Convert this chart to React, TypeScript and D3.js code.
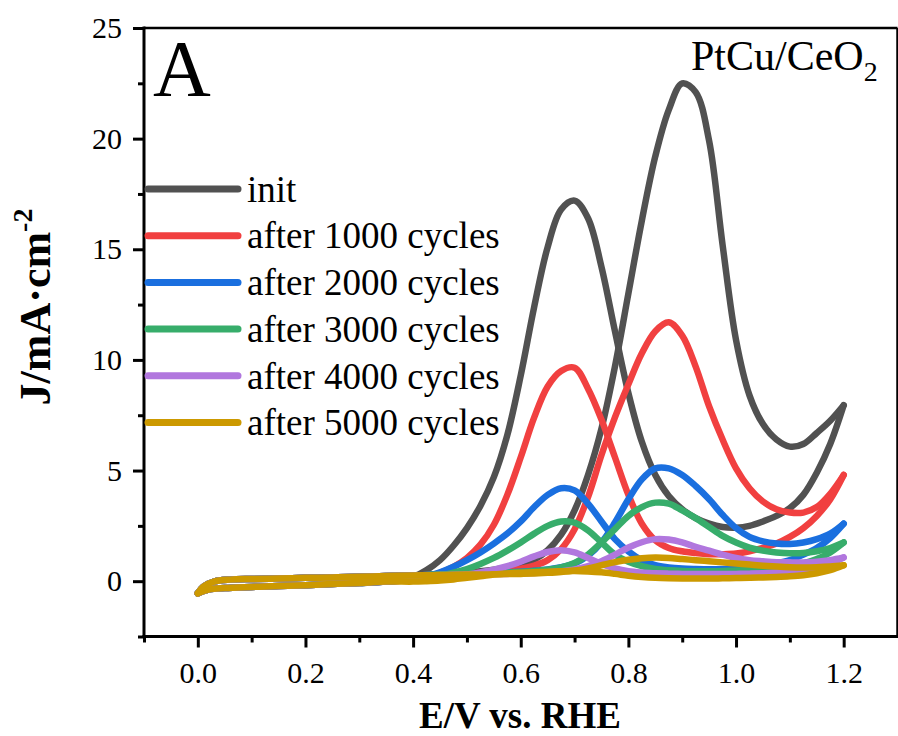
import * as d3 from "d3";
import { useEffect, useRef } from "react";

type Pt = [number, number];

// low-potential region, shared by all scans (E in V, J in mA/cm2)
const baseFwd: Pt[] = [[0.0, -0.55], [0.01, -0.25], [0.03, -0.02], [0.06, 0.07], [0.1, 0.1], [0.15, 0.12], [0.2, 0.15], [0.25, 0.17], [0.3, 0.2], [0.35, 0.23]];
const baseBwd: Pt[] = [[0.0, -0.55], [0.02, -0.38], [0.05, -0.31], [0.1, -0.26], [0.15, -0.22], [0.2, -0.18], [0.25, -0.13], [0.3, -0.08], [0.35, -0.02]];

const eGrid = [0.4, 0.425, 0.45, 0.475, 0.5, 0.525, 0.55, 0.575, 0.6, 0.625, 0.65, 0.675, 0.7, 0.725, 0.75, 0.775, 0.8, 0.825, 0.85, 0.875, 0.9, 0.925, 0.95, 0.975, 1.0, 1.025, 1.05, 1.075, 1.1, 1.125, 1.15, 1.175, 1.2];

const initFwd = [0.26, 0.29, 0.32, 0.36, 0.4, 0.45, 0.52, 0.62, 0.76, 0.98, 1.4, 2.1, 3.2, 4.8, 6.9, 9.7, 13.0, 16.3, 19.2, 21.3, 22.5, 22.1, 19.9, 15.2, 10.9, 8.4, 7.1, 6.4, 6.08, 6.2, 6.7, 7.25, 7.95];
const initBwd = [0.2, 0.5, 0.95, 1.6, 2.4, 3.4, 4.7, 6.6, 9.3, 12.4, 15.1, 16.8, 17.2, 16.4, 14.2, 11.3, 8.5, 6.3, 4.8, 3.85, 3.25, 2.85, 2.6, 2.45, 2.42, 2.5, 2.7, 2.95, 3.3, 3.9, 4.9, 6.2, 7.95];

const c1000Fwd = [0.26, 0.28, 0.3, 0.32, 0.35, 0.38, 0.42, 0.48, 0.56, 0.7, 0.95, 1.45, 2.35, 3.8, 5.7, 7.4, 8.9, 10.3, 11.3, 11.7, 11.1, 9.7, 7.9, 6.4, 5.1, 4.2, 3.6, 3.25, 3.1, 3.1, 3.35, 3.95, 4.8];
const c1000Bwd = [0.08, 0.2, 0.38, 0.65, 1.05, 1.65, 2.55, 3.9, 5.6, 7.4, 8.8, 9.5, 9.65, 8.7, 7.3, 5.6, 3.9, 2.6, 1.85, 1.5, 1.35, 1.27, 1.22, 1.22, 1.25, 1.35, 1.5, 1.7, 2.0, 2.4, 2.95, 3.7, 4.8];

const c2000Fwd = [0.26, 0.28, 0.3, 0.32, 0.34, 0.36, 0.38, 0.4, 0.43, 0.47, 0.53, 0.63, 0.8, 1.15, 1.75, 2.65, 3.7, 4.6, 5.1, 5.1, 4.8, 4.3, 3.7, 3.0, 2.4, 2.0, 1.8, 1.7, 1.68, 1.75, 1.9, 2.15, 2.6];
const c2000Bwd = [0.1, 0.22, 0.4, 0.65, 0.95, 1.3, 1.7, 2.15, 2.7, 3.35, 3.9, 4.2, 4.1, 3.5, 2.7, 1.9, 1.35, 0.95, 0.72, 0.62, 0.57, 0.55, 0.54, 0.55, 0.58, 0.63, 0.7, 0.8, 0.95, 1.2, 1.5, 1.95, 2.6];

const c3000Fwd = [0.26, 0.28, 0.3, 0.31, 0.33, 0.35, 0.37, 0.39, 0.42, 0.46, 0.52, 0.62, 0.82, 1.2, 1.75, 2.35, 2.95, 3.35, 3.55, 3.5, 3.2, 2.85, 2.45, 2.05, 1.75, 1.52, 1.38, 1.3, 1.26, 1.27, 1.35, 1.5, 1.75];
const c3000Bwd = [0.08, 0.15, 0.25, 0.38, 0.55, 0.78, 1.05, 1.38, 1.75, 2.15, 2.5, 2.7, 2.65, 2.3, 1.75, 1.2, 0.88, 0.68, 0.55, 0.49, 0.46, 0.45, 0.45, 0.46, 0.48, 0.51, 0.55, 0.6, 0.68, 0.8, 1.0, 1.3, 1.75];

const c4000Fwd = [0.26, 0.27, 0.28, 0.29, 0.3, 0.31, 0.32, 0.33, 0.35, 0.37, 0.4, 0.45, 0.53, 0.68, 0.9, 1.2, 1.52, 1.76, 1.9, 1.88, 1.75, 1.55, 1.38, 1.2, 1.05, 0.95, 0.9, 0.86, 0.85, 0.85, 0.88, 0.95, 1.07];
const c4000Bwd = [0.05, 0.1, 0.15, 0.22, 0.3, 0.4, 0.52, 0.68, 0.88, 1.12, 1.32, 1.4, 1.3, 1.05, 0.78, 0.58, 0.45, 0.39, 0.36, 0.34, 0.33, 0.32, 0.32, 0.32, 0.33, 0.34, 0.36, 0.39, 0.43, 0.5, 0.62, 0.8, 1.07];

const c5000Fwd = [0.26, 0.27, 0.28, 0.29, 0.3, 0.3, 0.31, 0.32, 0.33, 0.35, 0.38, 0.42, 0.48, 0.58, 0.72, 0.86, 0.97, 1.04, 1.07, 1.05, 1.0, 0.95, 0.9, 0.85, 0.8, 0.75, 0.7, 0.66, 0.63, 0.62, 0.63, 0.66, 0.72];
const c5000Bwd = [-0.02, 0.0, 0.03, 0.08, 0.15, 0.22, 0.3, 0.35, 0.38, 0.4, 0.43, 0.45, 0.46, 0.44, 0.4, 0.33, 0.25, 0.19, 0.15, 0.13, 0.12, 0.12, 0.12, 0.13, 0.14, 0.15, 0.17, 0.19, 0.22, 0.27, 0.36, 0.5, 0.72];

const labels = ["init", "after 1000 cycles", "after 2000 cycles", "after 3000 cycles", "after 4000 cycles", "after 5000 cycles"];
const colors = ["#515151", "#F14040", "#1A6FDF", "#37AD6B", "#B177DE", "#CC9900"];
const scans = [[initFwd, initBwd], [c1000Fwd, c1000Bwd], [c2000Fwd, c2000Bwd], [c3000Fwd, c3000Bwd], [c4000Fwd, c4000Bwd], [c5000Fwd, c5000Bwd]];

const xMajor = [0, 0.2, 0.4, 0.6, 0.8, 1.0, 1.2];
const xMinor = [-0.1, 0.1, 0.3, 0.5, 0.7, 0.9, 1.1];
const yMajor = [0, 5, 10, 15, 20, 25];
const yMinor = [-2.5, 2.5, 7.5, 12.5, 17.5, 22.5];

const FONT = "'Liberation Serif', 'Times New Roman', serif";

export default function App() {
  const svgRef = useRef<SVGSVGElement>(null);

  useEffect(() => {
    if (!svgRef.current) return;
    const width = 898;
    const height = 736;
    const left = 144, right = 897.5, top = 28, bottom = 636.5;

    const svg = d3.select(svgRef.current);
    svg.selectAll("*").remove();
    svg.attr("width", width).attr("height", height);

    const x = d3.scaleLinear().domain([-0.1, 1.3]).range([left, right]);
    const y = d3.scaleLinear().domain([-2.5, 25]).range([bottom, top]);

    const line = d3
      .line<Pt>()
      .x((d) => x(d[0]))
      .y((d) => y(d[1]))
      .curve(d3.curveCatmullRom.alpha(0.5));

    const curves = svg.append("g");
    scans.forEach(([fwd, bwd], i) => {
      const fwdPts: Pt[] = [...baseFwd, ...eGrid.map((e, k) => [e, fwd[k]] as Pt)];
      const bwdPts: Pt[] = [...baseBwd, ...eGrid.map((e, k) => [e, bwd[k]] as Pt)];
      for (const pts of [fwdPts, bwdPts]) {
        curves
          .append("path")
          .datum(pts)
          .attr("d", line)
          .attr("fill", "none")
          .attr("stroke", colors[i])
          .attr("stroke-width", 6.5)
          .attr("stroke-linecap", "round")
          .attr("stroke-linejoin", "round");
      }
    });

    // axes
    const styleAxis = (g: d3.Selection<SVGGElement, unknown, null, undefined>) => {
      g.select(".domain").remove();
      g.selectAll(".tick line").attr("stroke", "#000").attr("stroke-width", 3);
      g.selectAll("text").attr("fill", "#000").style("font-family", FONT).style("font-size", "30px");
    };

    svg
      .append("g")
      .attr("transform", `translate(0,${bottom})`)
      .call(d3.axisBottom(x).tickValues(xMajor).tickSize(11).tickPadding(14).tickFormat(d3.format(".1f")))
      .call(styleAxis);
    svg
      .append("g")
      .attr("transform", `translate(0,${bottom})`)
      .call(d3.axisBottom(x).tickValues(xMinor).tickSize(6).tickFormat(() => ""))
      .call(styleAxis);
    svg
      .append("g")
      .attr("transform", `translate(${left},0)`)
      .call(d3.axisLeft(y).tickValues(yMajor).tickSize(11).tickPadding(11).tickFormat(d3.format("d")))
      .call(styleAxis);
    svg
      .append("g")
      .attr("transform", `translate(${left},0)`)
      .call(d3.axisLeft(y).tickValues(yMinor).tickSize(6).tickFormat(() => ""))
      .call(styleAxis);

    // frame
    svg.append("line").attr("x1", left).attr("x2", right).attr("y1", top).attr("y2", top).attr("stroke", "#000").attr("stroke-width", 2.5);
    svg.append("line").attr("x1", right).attr("x2", right).attr("y1", top).attr("y2", bottom).attr("stroke", "#000").attr("stroke-width", 2.5);
    svg.append("line").attr("x1", left).attr("x2", left).attr("y1", top - 1.5).attr("y2", bottom + 1.5).attr("stroke", "#000").attr("stroke-width", 3);
    svg.append("line").attr("x1", left - 1.5).attr("x2", right + 1).attr("y1", bottom).attr("y2", bottom).attr("stroke", "#000").attr("stroke-width", 3);

    // legend
    const legend = svg.append("g");
    labels.forEach((label, i) => {
      const ly = 189 + i * 46.7;
      legend
        .append("line")
        .attr("x1", 148)
        .attr("x2", 238)
        .attr("y1", ly)
        .attr("y2", ly)
        .attr("stroke", colors[i])
        .attr("stroke-width", 7)
        .attr("stroke-linecap", "round");
      legend
        .append("text")
        .attr("x", 247)
        .attr("y", ly + 12.7)
        .style("font-family", FONT)
        .style("font-size", "37px")
        .attr("fill", "#000")
        .text(label);
    });

    // annotations
    svg.append("text").attr("x", 153).attr("y", 96).style("font-family", FONT).style("font-size", "80px").text("A");
    const tag = svg.append("text").attr("x", 691).attr("y", 70).style("font-family", FONT).style("font-size", "42px");
    tag.append("tspan").text("PtCu/CeO");
    tag.append("tspan").attr("dy", 11).style("font-size", "28px").text("2");

    // axis titles
    svg
      .append("text")
      .attr("x", 520)
      .attr("y", 728)
      .attr("text-anchor", "middle")
      .style("font-family", FONT)
      .style("font-size", "37px")
      .style("font-weight", "bold")
      .text("E/V vs. RHE");

    const yt = svg
      .append("text")
      .attr("transform", "translate(50,307) rotate(-90)")
      .attr("text-anchor", "middle")
      .style("font-family", FONT)
      .style("font-size", "44px")
      .style("font-weight", "bold");
    yt.append("tspan").text("J/mA·cm");
    yt.append("tspan").attr("dy", -18).style("font-size", "28px").text("-2");
  }, []);

  return <svg ref={svgRef} style={{ position: "absolute", left: 0, top: 0, background: "#fff" }} />;
}
